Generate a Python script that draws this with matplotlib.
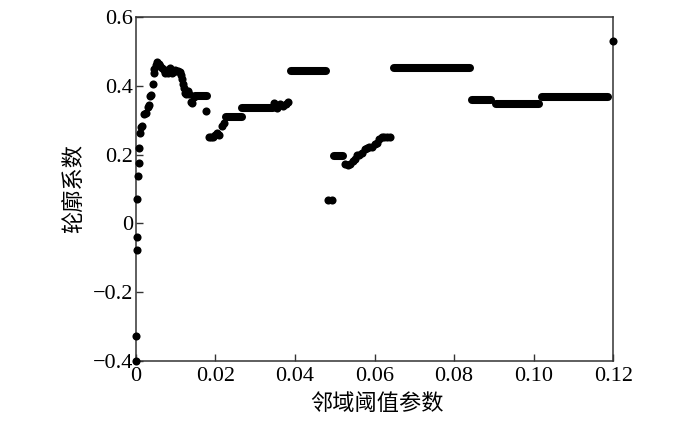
import numpy as np
import matplotlib
matplotlib.use("Agg")
import matplotlib.pyplot as plt

# flat runs of points (centre of first / last dot and their value)
plateau_start = [0.0150, 0.0226, 0.0268, 0.0390, 0.0497, 0.0650, 0.0846, 0.0906, 0.1020]
plateau_end = [0.0178, 0.0266, 0.0345, 0.0478, 0.0522, 0.0840, 0.0894, 0.1013, 0.1188]
plateau_value = [0.369, 0.308, 0.336, 0.442, 0.196, 0.452, 0.358, 0.347, 0.367]

# single dots
point_x = [0.0000, 0.0000, 0.0003, 0.0003, 0.0002, 0.0005, 0.0008, 0.0008, 0.0010, 0.0012,
           0.0016, 0.0021, 0.0025, 0.0030, 0.0034, 0.0035, 0.0038, 0.0042, 0.0045, 0.0047,
           0.0051, 0.0054, 0.0058, 0.0062, 0.0066, 0.0070, 0.0074, 0.0078, 0.0082, 0.0086,
           0.0090, 0.0094, 0.0098, 0.0102, 0.0106, 0.0110, 0.0114, 0.0117, 0.0119, 0.0121,
           0.0123, 0.0126, 0.0130, 0.0134, 0.0138, 0.0142, 0.0146, 0.0176, 0.0184, 0.0188,
           0.0193, 0.0198, 0.0204, 0.0210, 0.0216, 0.0221, 0.0348, 0.0352, 0.0356, 0.0362,
           0.0370, 0.0378, 0.0383, 0.0484, 0.0492, 0.0527, 0.0533, 0.0539, 0.0545, 0.0550,
           0.0556, 0.0562, 0.0568, 0.0575, 0.0581, 0.0587, 0.0593, 0.0600, 0.0606, 0.0612,
           0.0618, 0.0625, 0.0632, 0.0639, 0.1200]
point_y = [-0.400, -0.328, -0.078, -0.040, 0.071, 0.138, 0.176, 0.218, 0.262, 0.279,
           0.282, 0.318, 0.322, 0.338, 0.344, 0.370, 0.372, 0.405, 0.436, 0.448,
           0.460, 0.468, 0.463, 0.458, 0.452, 0.446, 0.438, 0.446, 0.438, 0.450,
           0.436, 0.440, 0.445, 0.442, 0.444, 0.440, 0.432, 0.420, 0.405, 0.392,
           0.380, 0.376, 0.384, 0.375, 0.352, 0.350, 0.368, 0.326, 0.252, 0.250,
           0.250, 0.258, 0.262, 0.256, 0.282, 0.292, 0.349, 0.338, 0.335, 0.348,
           0.340, 0.348, 0.352, 0.068, 0.068, 0.172, 0.170, 0.172, 0.180, 0.188,
           0.198, 0.200, 0.205, 0.216, 0.220, 0.222, 0.222, 0.230, 0.232, 0.244,
           0.252, 0.252, 0.252, 0.252, 0.531]

x_ticks = [0, 0.02, 0.04, 0.06, 0.08, 0.10, 0.12]
x_tick_labels = ["0", "0.02", "0.04", "0.06", "0.08", "0.10", "0.12"]
y_ticks = [-0.4, -0.2, 0, 0.2, 0.4, 0.6]
y_tick_labels = ["\u22120.4", "\u22120.2", "0", "0.2", "0.4", "0.6"]

cjk = ["Noto Sans CJK SC", "DejaVu Sans"]

fig = plt.figure(figsize=(7, 4.21), dpi=100)
ax = fig.add_axes([0.194, 0.1425, 0.682, 0.8175])

ax.hlines(plateau_value, plateau_start, plateau_end, colors="black",
          linewidth=5.8, capstyle="round", zorder=3)
ax.scatter(point_x, point_y, s=34, color="black", linewidths=0, zorder=3,
           clip_on=False)

ax.set_xlim(0, 0.12)
ax.set_ylim(-0.4, 0.6)
ax.set_xticks(x_ticks)
ax.set_xticklabels(x_tick_labels)
ax.set_yticks(y_ticks)
ax.set_yticklabels(y_tick_labels)

for lab in ax.get_xticklabels() + ax.get_yticklabels():
    lab.set_fontfamily("Liberation Serif")
    lab.set_fontsize(16)

ax.tick_params(direction="in", length=5, width=1, color="#333333",
               top=False, right=False)
ax.tick_params(axis="x", pad=4)
ax.tick_params(axis="y", pad=2)
for sp in ax.spines.values():
    sp.set_color("#333333")
    sp.set_linewidth(1.1)

ax.set_xlabel("邻域阈值参数", family=cjk, fontsize=16)
ax.set_ylabel("轮廓系数", family=cjk, fontsize=16)
ax.xaxis.set_label_coords(0.505, -0.09)
ax.yaxis.set_label_coords(-0.107, 0.5)

fig.savefig("out.png", dpi=100, facecolor="white")
